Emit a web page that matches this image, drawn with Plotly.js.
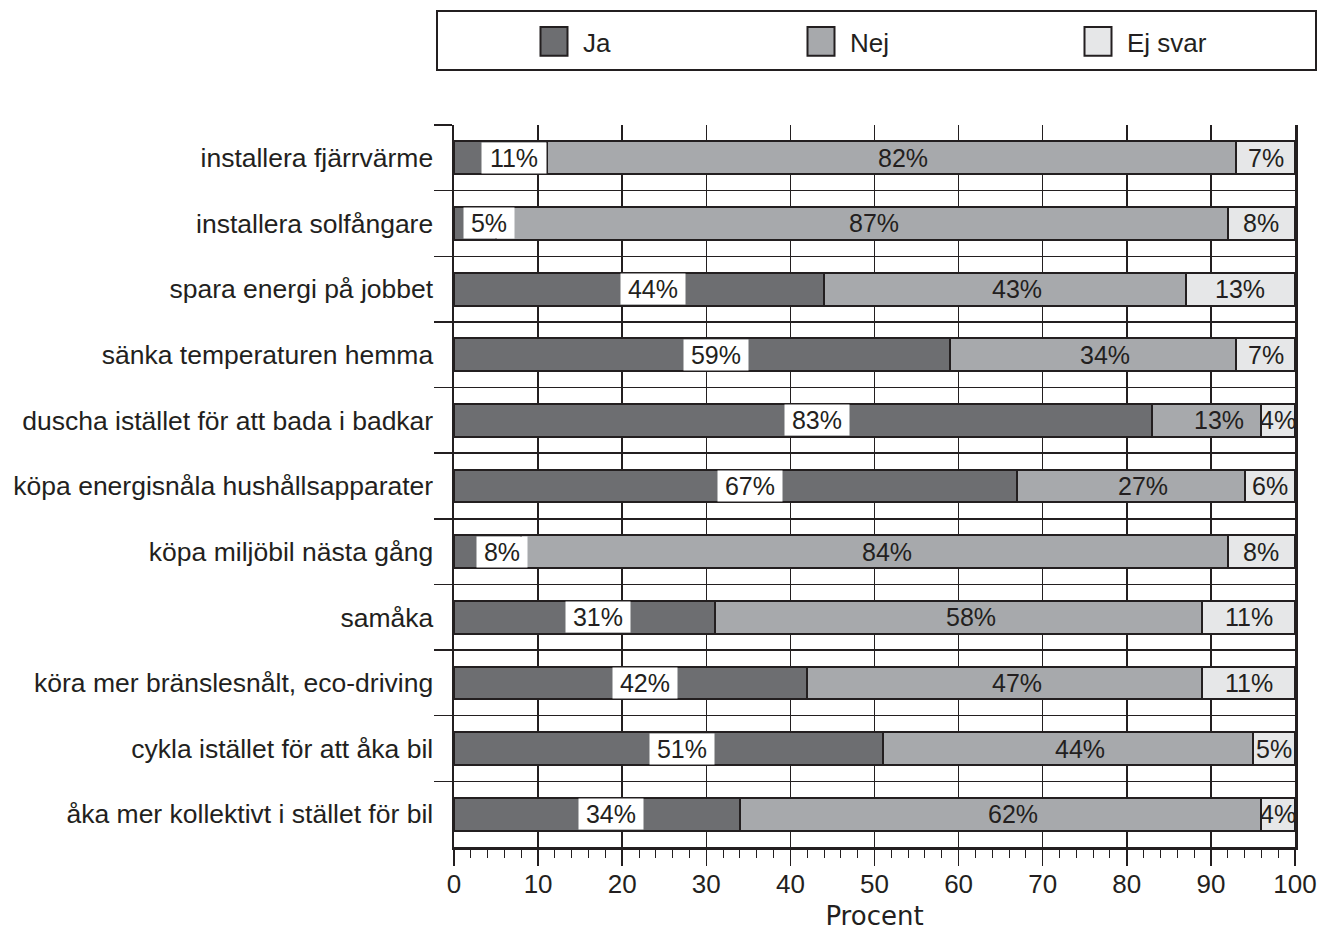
<!DOCTYPE html>
<html>
<head>
<meta charset="utf-8">
<script src="https://cdn.plot.ly/plotly-3.0.1.min.js"></script>
<style>html,body{margin:0;padding:0;background:#fff;}#chart{width:1320px;height:931px;}</style>
</head>
<body>
<div id="chart"></div>
<script>
const categories = [
  "installera fjärrvärme",
  "installera solfångare",
  "spara energi på jobbet",
  "sänka temperaturen hemma",
  "duscha istället för att bada i badkar",
  "köpa energisnåla hushållsapparater",
  "köpa miljöbil nästa gång",
  "samåka",
  "köra mer bränslesnålt, eco-driving",
  "cykla istället för att åka bil",
  "åka mer kollektivt i stället för bil"
];
const jaValues    = [11, 5, 44, 59, 83, 67, 8, 31, 42, 51, 34];
const nejValues   = [82, 87, 43, 34, 13, 27, 84, 58, 47, 44, 62];
const ejSvarValues = [7, 8, 13, 7, 4, 6, 8, 11, 11, 5, 4];
const seriesNames = ["Ja", "Nej", "Ej svar"];
const xTickValues = [0, 10, 20, 30, 40, 50, 60, 70, 80, 90, 100];

const INK = "#231f20";
const colors = ["#6d6e71", "#a7a9ac", "#e6e7e8"];
const FONT = "Liberation Sans, Arial, sans-serif";

const W = 1320, H = 931;
const M = {l: 454, r: 25, t: 125, b: 84};
const pw = W - M.l - M.r, ph = H - M.t - M.b;
const px2x = p => (p - M.l) / pw;
const py2y = p => (H - M.b - p) / ph;

const legendIds = ["legend", "legend2", "legend3"];
const legendLeftPx = [533, 800, 1077];

const allSeries = [jaValues, nejValues, ejSvarValues];
const traces = allSeries.map((vals, i) => ({
  type: "bar",
  orientation: "h",
  name: seriesNames[i],
  legend: legendIds[i],
  x: vals,
  y: categories,
  width: 0.5,
  marker: {color: colors[i], line: {color: INK, width: 2}},
  hoverinfo: "skip"
}));

const annotations = [];
const textW = s => s.replace("%", "").length * 13.9 + 22.2;
categories.forEach((c, k) => {
  const ja = jaValues[k], nej = nejValues[k], ej = ejSvarValues[k];
  const tJa = ja + "%";
  annotations.push({
    x: ja / 2, y: c, xref: "x", yref: "y", text: tJa, showarrow: false,
    xshift: 14, bgcolor: "#ffffff", width: textW(tJa) + 14, height: 30,
    borderpad: 0, font: {family: FONT, size: 25, color: INK}
  });
  annotations.push({
    x: ja + nej / 2, y: c, xref: "x", yref: "y", text: nej + "%", showarrow: false,
    xshift: 12, font: {family: FONT, size: 25, color: INK}
  });
  annotations.push({
    x: ja + nej + ej / 2, y: c, xref: "x", yref: "y", text: ej + "%", showarrow: false,
    font: {family: FONT, size: 25, color: INK}
  });
});

const layout = {
  width: W, height: H,
  margin: M,
  paper_bgcolor: "#ffffff",
  plot_bgcolor: "#ffffff",
  barmode: "stack",
  showlegend: true,
  font: {family: FONT, size: 26, color: INK},
  xaxis: {
    range: [0, 100],
    tickvals: xTickValues,
    ticktext: xTickValues.map(String),
    ticks: "outside", ticklen: 16, tickwidth: 1.5, tickcolor: INK,
    minor: {dtick: 2, ticks: "outside", ticklen: 8, tickwidth: 1, tickcolor: INK, showgrid: false},
    showgrid: true, gridcolor: INK, gridwidth: 1.5,
    showline: true, linecolor: INK, linewidth: 2.5,
    zeroline: false,
    tickfont: {family: FONT, size: 26, color: INK},
    ticklabelstandoff: -4,
    title: {text: "Procent", font: {family: "DejaVu Sans, Verdana, sans-serif", size: 26, color: INK}, standoff: 16},
    fixedrange: true
  },
  yaxis: {
    type: "category",
    categoryorder: "array",
    categoryarray: categories,
    autorange: "reversed",
    tickson: "boundaries",
    ticks: "outside", ticklen: 18, tickwidth: 1.5, tickcolor: INK,
    showgrid: true, gridcolor: INK, gridwidth: 1.5,
    showline: true, mirror: true, linecolor: INK, linewidth: 2.5,
    zeroline: false,
    tickfont: {family: FONT, size: 26.5, color: INK},
    ticklabelstandoff: 13,
    fixedrange: true
  },
  annotations: annotations,
  shapes: [{
    type: "rect", xref: "paper", yref: "paper",
    x0: px2x(437), x1: px2x(1316), y0: py2y(70), y1: py2y(11),
    line: {color: INK, width: 2}, fillcolor: "rgba(0,0,0,0)", layer: "below"
  }]
};
legendIds.forEach((id, i) => {
  layout[id] = {
    orientation: "h",
    x: px2x(legendLeftPx[i]), xanchor: "left",
    y: py2y(18), yanchor: "top",
    bgcolor: "rgba(0,0,0,0)",
    borderwidth: 0,
    itemwidth: 40,
    font: {family: FONT, size: 26, color: INK}
  };
});

Plotly.newPlot("chart", traces, layout, {displayModeBar: false, staticPlot: true}).then(gd => {
  gd.querySelectorAll(".legendpoints path").forEach(p => {
    const base = p.getAttribute("transform") || "";
    p.setAttribute("transform", base + " translate(-4,0) scale(2.25,2.4)");
    p.setAttribute("vector-effect", "non-scaling-stroke");
  });
});
</script>
</body>
</html>
